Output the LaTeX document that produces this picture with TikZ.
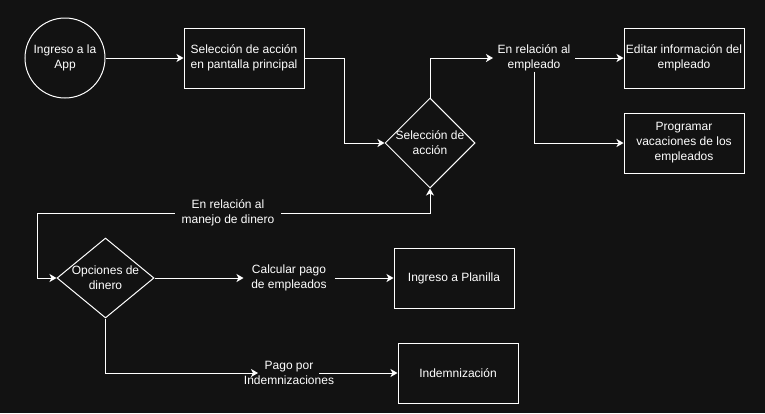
\documentclass[tikz,border=0pt]{standalone}
\usepackage{fontspec}
\setmainfont{Liberation Sans}
\usetikzlibrary{arrows.meta,shapes.geometric}
\definecolor{fondo}{HTML}{121212}

\begin{document}
\begin{tikzpicture}[x=1pt, y=-1pt, line width=1pt,
  every node/.style={text=white, font=\fontsize{12}{15}\selectfont, align=center},
  caja/.style={draw=white, minimum width=120pt, minimum height=60pt, inner sep=0pt},
  rombo/.style={draw=white, diamond, inner sep=-5pt},
  texto/.style={inner sep=0pt},
  flecha/.style={draw=white, -{Stealth[length=7pt,width=8pt,inset=2pt]}},
  doble/.style={draw=white, {Stealth[length=7pt,width=8pt,inset=2pt]}-{Stealth[length=7pt,width=8pt,inset=2pt]}}]

\fill[fondo] (0,0) rectangle (765,413);
\useasboundingbox (0,0) rectangle (765,413);

\node (app) at (65,58) [draw=white, circle, minimum size=80pt, inner sep=0pt] {Ingreso a la\\App};
\node (sel) at (244,58) [caja] {Selección de acción\\en pantalla principal};
\node (accion) at (430,143) [rombo, minimum width=90pt, minimum height=90pt] {Selección de\\acción};
\node (relemp) at (534,58) [texto, minimum width=81pt] {En relación al\\empleado};
\node (editar) at (684,58) [caja] {Editar información del\\empleado};
\node (prog) at (684,143) [caja] {Programar\\vacaciones de los\\empleados};

\node (opc) at (105.5,278) [rombo, minimum width=97pt, minimum height=80pt] {Opciones de\\dinero};
\node (calc) at (289,278) [texto, minimum width=90pt] {Calcular pago\\de empleados};
\node (planilla) at (454,278) [caja] {Ingreso a Planilla};
\node (pago) at (289,373) [texto] {Pago por\\Indemnizaciones};
\node (indem) at (458,373) [caja] {Indemnización};
\coordinate (vuelta) at (37,213);

\draw[flecha] (app) -- (sel);
\draw[flecha] (sel.east) -- ++(40,0) |- (accion.west);
\draw[flecha] (accion.north) |- (relemp.west);
\draw[flecha] (relemp.east) -- (editar.west);
\draw[flecha] (relemp.south) |- (prog.west);
\draw[doble] (accion.south) |- node[pos=0.757, fill=fondo, inner xsep=7pt, inner ysep=1pt] {En relación al\\manejo de dinero} (vuelta) |- (opc.west);
\draw[flecha] (opc.east) -- (calc.west);
\draw[flecha] (calc.east) -- (planilla.west);
\draw[flecha] (opc.south) |- ([xshift=-31pt]pago.center);
\draw[flecha] ([xshift=30pt]pago.center) -- (indem.west);

\end{tikzpicture}
\end{document}
